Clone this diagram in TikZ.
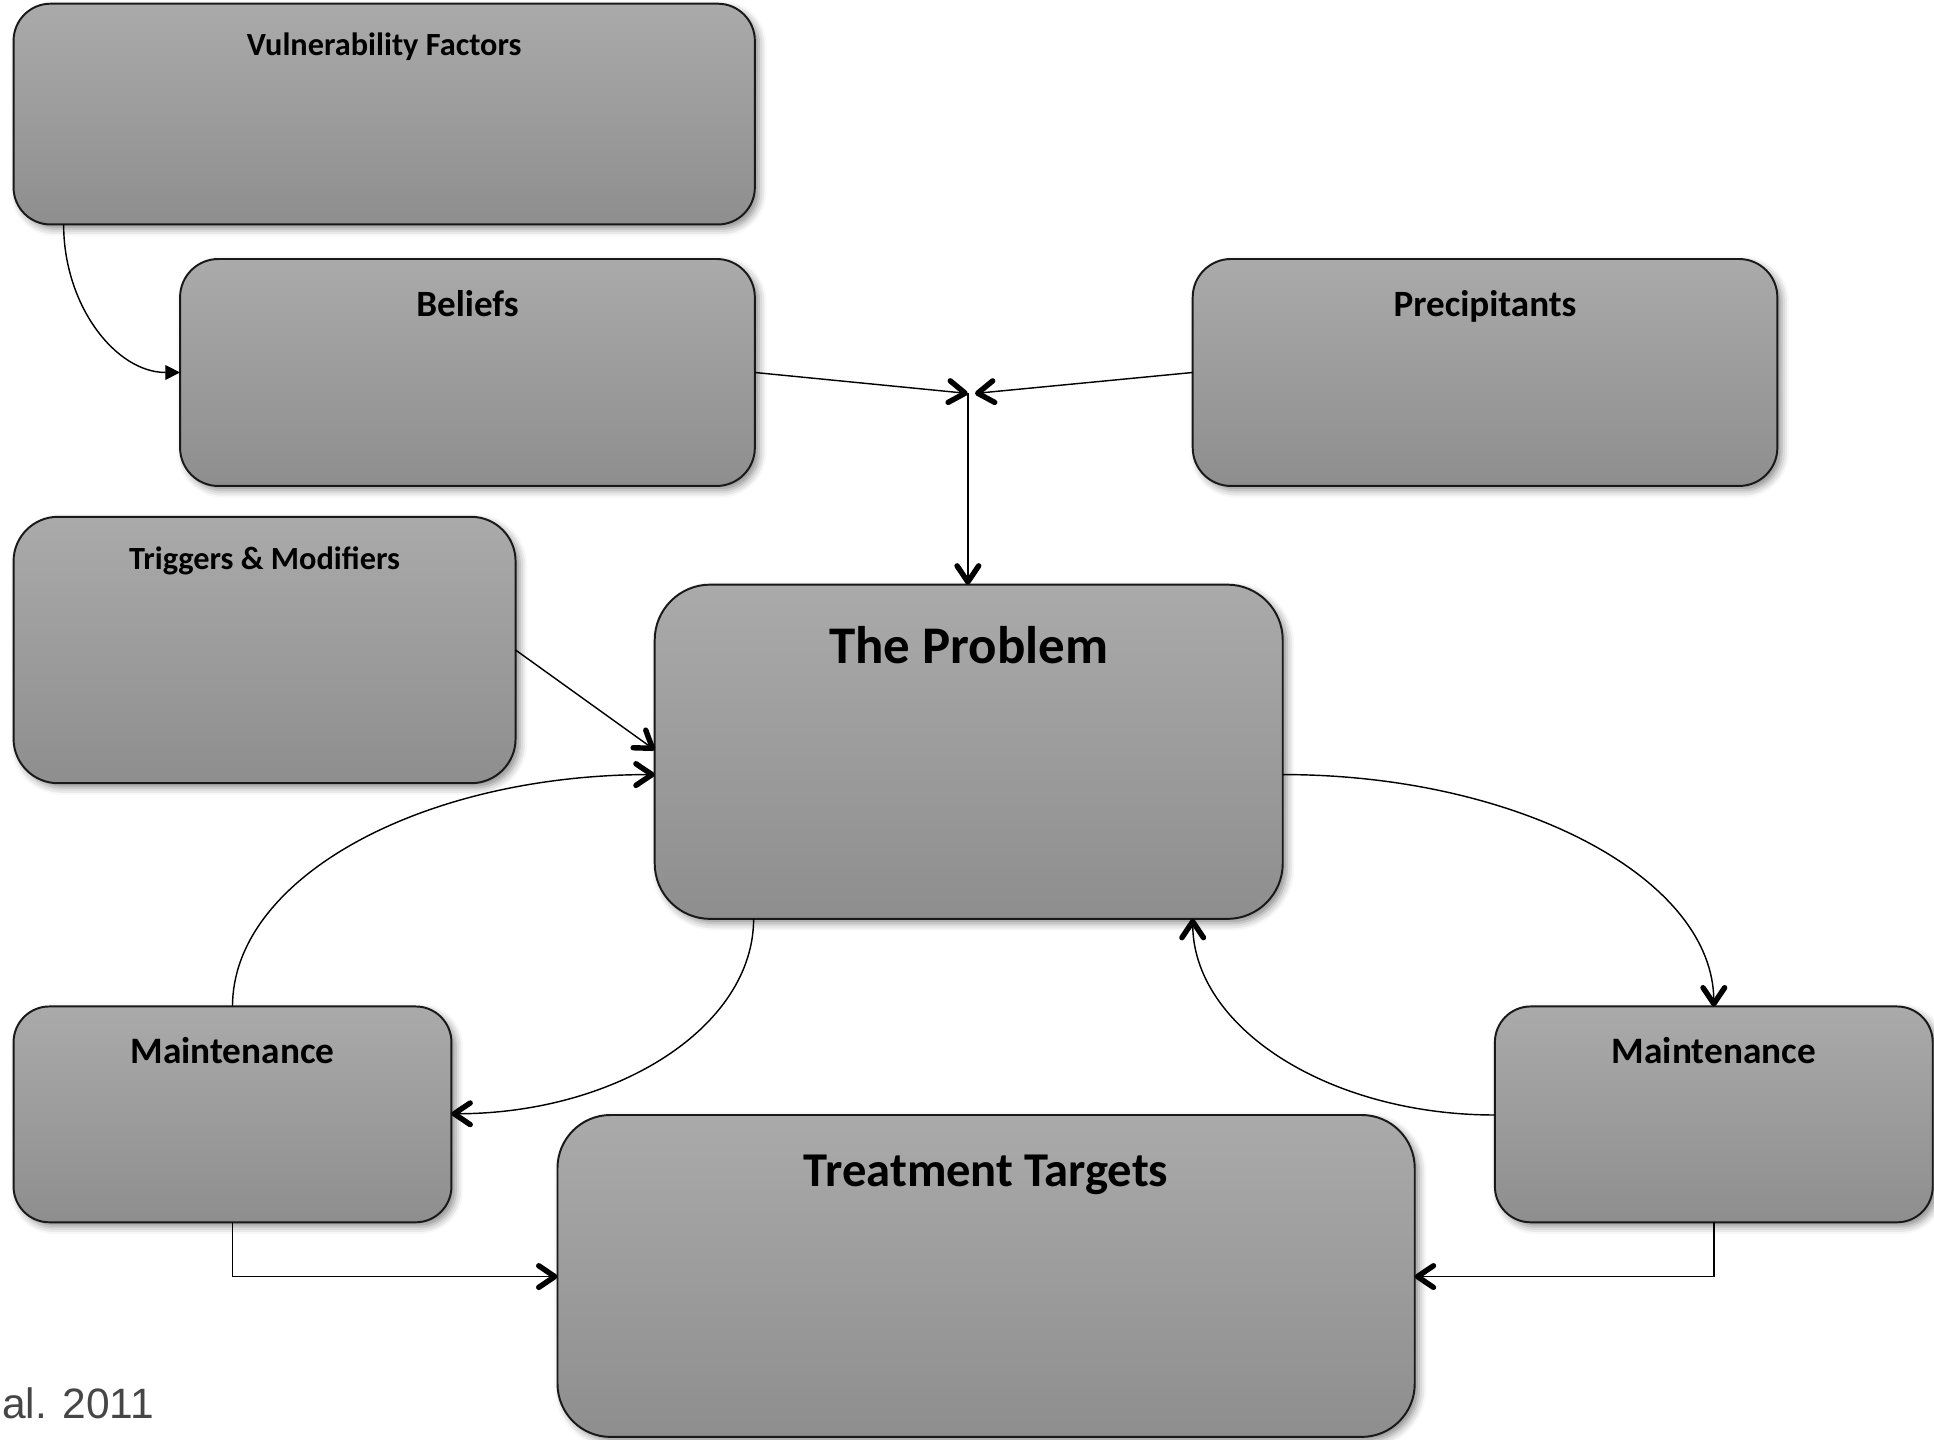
\documentclass[tikz,border=0pt]{standalone}
\usepackage{fontspec}
\setmainfont{Carlito}
\newfontfamily\citefont{Liberation Sans}
\usetikzlibrary{arrows.meta,shadows.blur,fit}
\definecolor{boxtop}{RGB}{170,170,170}
\definecolor{boxbot}{RGB}{142,142,142}
\definecolor{boxline}{RGB}{25,25,25}
\definecolor{citegray}{RGB}{70,70,70}
\tikzset{
  box/.style={draw=boxline, line width=0.45pt, top color=boxtop, bottom color=boxbot,
    inner sep=0pt, outer sep=0pt,
    blur shadow={shadow xshift=1pt, shadow yshift=-1pt, shadow blur radius=1.7pt, shadow opacity=45}},
  lbl/.style={anchor=base, inner sep=0pt},
  conn/.style={line width=0.33pt, draw=black},
  openarr/.style={conn, -{Straight Barb[length=1.3mm, width=1.75mm, line width=1.25pt, round]}},
  fillarr/.style={conn, -{Triangle[length=1.2mm, width=1.2mm]}},
}
\begin{document}
\begin{tikzpicture}[x=0.01cm, y=-0.01cm]
\useasboundingbox (0,0) rectangle (1568,1167);

% boxes
\node[box, rounded corners=0.30cm, fit={(11,3) (612,182)}] (vuln) {};
\node[box, rounded corners=0.31cm, fit={(146,210) (612,394)}] (bel) {};
\node[box, rounded corners=0.31cm, fit={(967,210) (1441,394)}] (prec) {};
\node[box, rounded corners=0.36cm, fit={(11,419) (418,635)}] (trig) {};
\node[box, rounded corners=0.45cm, fit={(530.8,474) (1040,745)}] (prob) {};
\node[box, rounded corners=0.29cm, fit={(11,816) (366,991)}] (mL) {};
\node[box, rounded corners=0.29cm, fit={(1212,816) (1567,991)}] (mR) {};
\node[box, rounded corners=0.43cm, fit={(452,904) (1147,1165)}] (treat) {};

% labels
\node[lbl, font=\bfseries\fontsize{7.45}{9}\selectfont] (vulnT) at (vuln.north |- 0,44.6) {Vulnerability Factors};
\node[lbl, font=\bfseries\fontsize{8.55}{10}\selectfont] (belT) at (bel.north |- 0,257) {Beliefs};
\node[lbl, font=\bfseries\fontsize{8.55}{10}\selectfont] (precT) at (prec.north |- 0,257) {Precipitants};
\node[lbl, font=\bfseries\fontsize{7.45}{9}\selectfont] (trigT) at (trig.north |- 0,462) {Triggers \& Modifiers};
\node[lbl, font=\bfseries\fontsize{12.2}{14}\selectfont] (probT) at (prob.north |- 0,538) {The Problem};
\node[lbl, font=\bfseries\fontsize{8.6}{10}\selectfont] (mLT) at (mL.north |- 0,862) {Maintenance};
\node[lbl, font=\bfseries\fontsize{8.6}{10}\selectfont] (mRT) at (mR.north |- 0,862) {Maintenance};
\node[lbl, font=\bfseries\fontsize{11.2}{13}\selectfont] (treatT) at (treat.north |- 0,962) {Treatment Targets};

% citation
\node[font=\citefont\fontsize{9.8}{12}\selectfont, text=citegray, anchor=base west, inner sep=0pt] (cite) at (1,1150) {al. 2011};

% connectors
\coordinate (jL) at (784.7,319);
\coordinate (jR) at (790.5,319);

\draw[fillarr] (vuln.south -| 51.6,0) .. controls +(0,66) and +(-52,0) .. (bel.west);
\draw[openarr] (bel.east) -- (jL);
\draw[openarr] (prec.west) -- (jR);
\draw[openarr] (jL) -- (jL |- prob.north);
\draw[openarr] (trig.east |- 0,527) -- (prob.west |- 0,608);
\draw[openarr] (mL.north) .. controls +(0,-104) and +(-189,0) .. (prob.west |- 0,628);
\draw[openarr] (prob.south -| 611,0) .. controls +(0,87) and +(135,0) .. (mL.east |- 0,903);
\draw[openarr] (prob.east |- 0,628) .. controls +(191,0) and +(0,-104) .. (mR.north);
\draw[openarr] (mR.west |- 0,904) .. controls +(-135,0) and +(0,88) .. (prob.south -| 967,0);
\draw[openarr] (mL.south) |- (treat.west |- 0,1035);
\draw[openarr] (mR.south) |- (treat.east |- 0,1035);
\end{tikzpicture}
\end{document}
